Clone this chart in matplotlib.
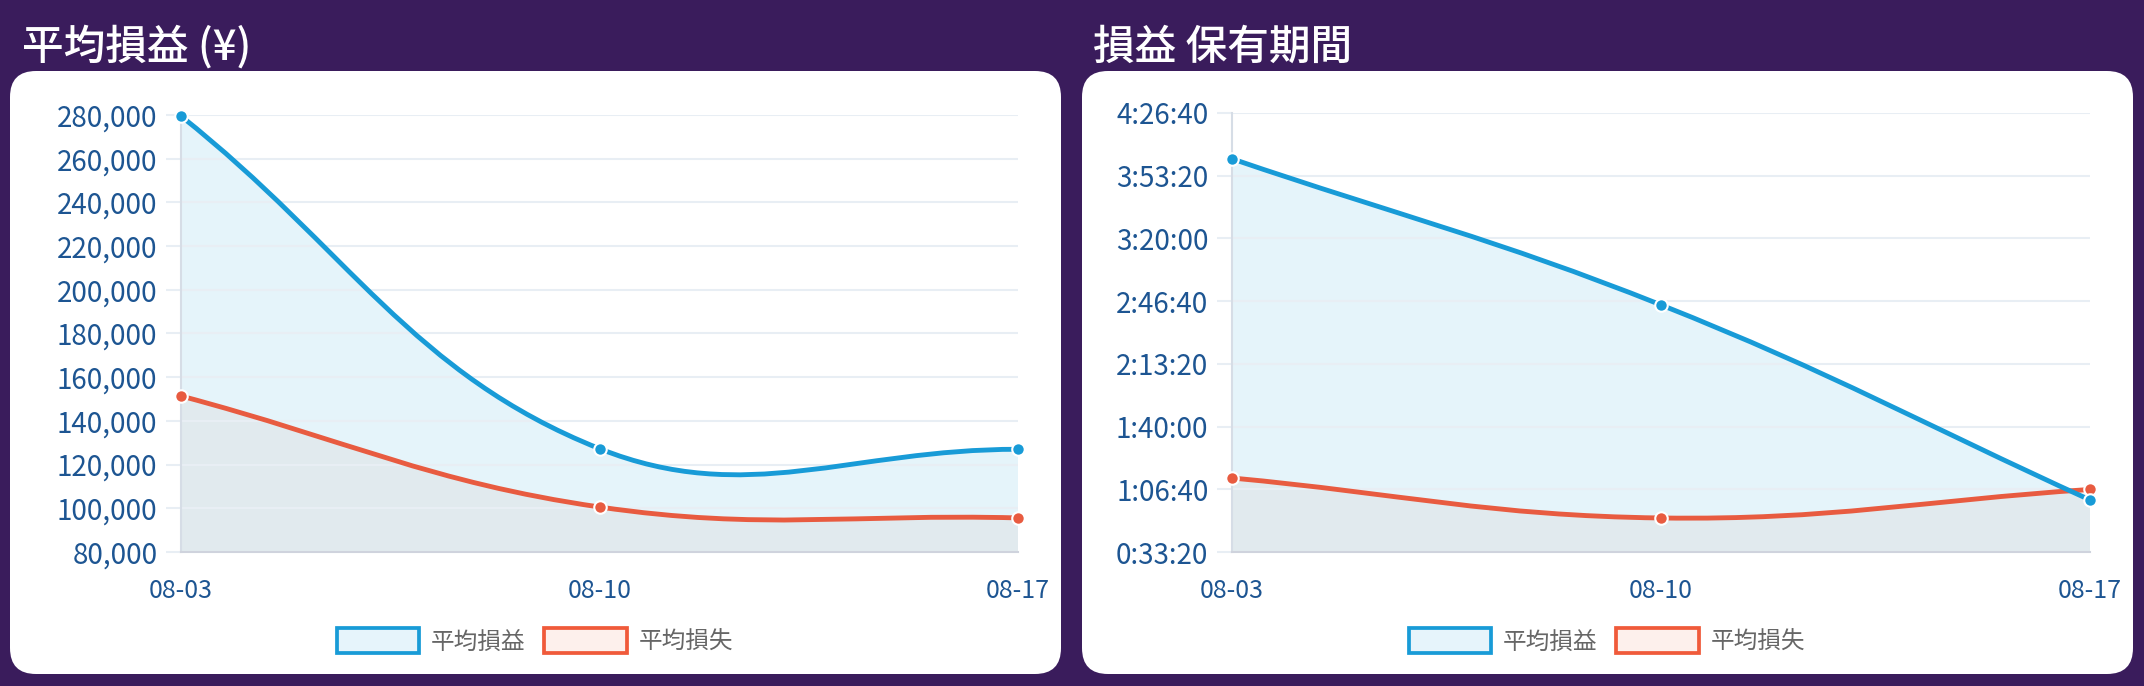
import numpy as np
import matplotlib
matplotlib.use('Agg')
from matplotlib import pyplot as plt
from matplotlib.path import Path
from matplotlib.patches import PathPatch, FancyBboxPatch, Patch
from matplotlib.ticker import FuncFormatter, MultipleLocator

plt.rcParams['font.family'] = ['Noto Sans CJK JP', 'DejaVu Sans']

# data
dates = ['08-03', '08-10', '08-17']
series_names = ['平均損益', '平均損失']
titles = ['平均損益 (¥)', '損益 保有期間']

pnl_profit = [279500, 127300, 127000]
pnl_loss = [151400, 100600, 95600]

# holding time in seconds
hold_profit = [14540, 9880, 3660]
hold_loss = [4360, 3085, 3995]

W, H = 2144, 686
bg = '#3a1c5c'
blue = '#189bd7'
red = '#e85b40'
tick_col = '#1d5592'
grid_col = '#e8eef4'


def px_axes(fig, x0, y0, x1, y1):
    return fig.add_axes([x0 / W, 1 - y1 / H, (x1 - x0) / W, (y1 - y0) / H])


def spline_path(ax, xs, ys, ybottom=None, tension=0.4):
    # chart.js style bezier through the points, computed in pixel space
    pts = ax.transData.transform(np.column_stack([xs, ys]))
    n = len(pts)
    c_prev, c_next = [], []
    for i in range(n):
        p0 = pts[max(i - 1, 0)]
        p1 = pts[i]
        p2 = pts[min(i + 1, n - 1)]
        d01 = np.hypot(*(p1 - p0))
        d12 = np.hypot(*(p2 - p1))
        s01 = d01 / (d01 + d12) if d01 + d12 else 0
        s12 = d12 / (d01 + d12) if d01 + d12 else 0
        c_prev.append(p1 - tension * s01 * (p2 - p0))
        c_next.append(p1 + tension * s12 * (p2 - p0))
    verts = [pts[0]]
    codes = [Path.MOVETO]
    for i in range(n - 1):
        verts += [c_next[i], c_prev[i + 1], pts[i + 1]]
        codes += [Path.CURVE4] * 3
    inv = ax.transData.inverted()
    verts = list(inv.transform(np.array(verts)))
    if ybottom is not None:
        verts += [(xs[-1], ybottom), (xs[0], ybottom), verts[0]]
        codes += [Path.LINETO, Path.LINETO, Path.CLOSEPOLY]
    return Path(verts, codes)


def hms(v, pos=None):
    v = int(round(v))
    return '%d:%02d:%02d' % (v // 3600, (v % 3600) // 60, v % 60)


fig = plt.figure(figsize=(W / 100, H / 100), dpi=100, facecolor=bg)

bgax = fig.add_axes([0, 0, 1, 1])
bgax.set_xlim(0, W)
bgax.set_ylim(H, 0)
bgax.axis('off')
for x0, x1 in [(10, 1061), (1082, 2133)]:
    bgax.add_patch(FancyBboxPatch((x0, 71), x1 - x0, 674 - 71,
                                  boxstyle='round,pad=0,rounding_size=26',
                                  facecolor='white', edgecolor='none'))

fig.text(22 / W, 1 - 60 / H, titles[0], color='white', fontsize=30,
         fontweight='medium', va='baseline')
fig.text(1093 / W, 1 - 60 / H, titles[1], color='white', fontsize=30,
         fontweight='medium', va='baseline')

ax1 = px_axes(fig, 181, 115, 1018, 552)
ax2 = px_axes(fig, 1232, 113, 2090, 552)

panels = [
    (ax1, pnl_profit, pnl_loss, (80000, 280000), 20000, FuncFormatter(lambda v, p: f'{int(v):,}')),
    (ax2, hold_profit, hold_loss, (2000, 16000), 2000, FuncFormatter(hms)),
]

x = np.arange(len(dates))
for ax, s_profit, s_loss, ylim, step, fmt in panels:
    ax.set_facecolor('none')
    ax.set_xlim(0, len(dates) - 1)
    ax.set_ylim(*ylim)
    ax.yaxis.set_major_locator(MultipleLocator(step))
    ax.yaxis.set_major_formatter(fmt)
    ax.set_xticks(x)
    ax.set_xticklabels(dates)
    ax.grid(axis='y', color=grid_col, linewidth=1.5, zorder=0)
    ax.tick_params(axis='y', length=11, width=1.5, color=grid_col, pad=6,
                   labelsize=20, labelcolor=tick_col)
    ax.tick_params(axis='x', length=0, pad=19, labelsize=18, labelcolor=tick_col)
    for side in ['top', 'right']:
        ax.spines[side].set_visible(False)
    ax.spines['left'].set_color('#d6dde6')
    ax.spines['left'].set_linewidth(1.5)
    ax.spines['bottom'].set_color('#cfd3dd')
    ax.spines['bottom'].set_linewidth(1.5)

    ax.add_patch(PathPatch(spline_path(ax, x, s_profit, ylim[0]), facecolor=blue,
                           alpha=0.11, edgecolor='none', zorder=1))
    ax.add_patch(PathPatch(spline_path(ax, x, s_loss, ylim[0]), facecolor='#c9a8a0',
                           alpha=0.13, edgecolor='none', zorder=1))
    ax.add_patch(PathPatch(spline_path(ax, x, s_loss), facecolor='none', edgecolor=red,
                           linewidth=3.5, zorder=3, capstyle='round'))
    ax.add_patch(PathPatch(spline_path(ax, x, s_profit), facecolor='none', edgecolor=blue,
                           linewidth=3.5, zorder=4, capstyle='round'))
    ax.plot(x, s_loss, 'o', color=red, markersize=9, markeredgecolor='white',
            markeredgewidth=1.5, zorder=5, clip_on=False)
    ax.plot(x, s_profit, 'o', color=blue, markersize=9, markeredgecolor='white',
            markeredgewidth=1.5, zorder=6, clip_on=False)

handles = [Patch(facecolor='#e6f4fb', edgecolor=blue, linewidth=2.7),
           Patch(facecolor='#fdf0ec', edgecolor='#f05a3a', linewidth=2.7)]
for cx in [535, 1607]:
    fig.legend(handles, series_names, loc='center', bbox_to_anchor=(cx / W, 1 - 641 / H),
               ncol=2, frameon=False, fontsize=17, labelcolor='#666666',
               handlelength=3.5, handleheight=1.2, handletextpad=0.5,
               columnspacing=0.8, borderpad=0)

fig.savefig('out.png', dpi=100, facecolor=bg)
